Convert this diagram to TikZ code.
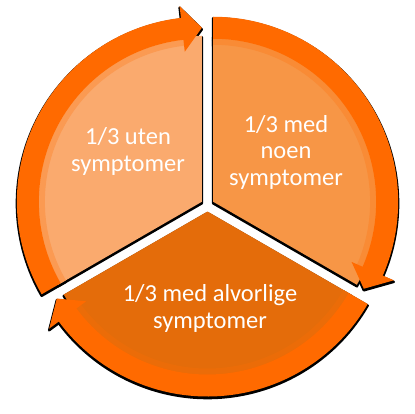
\documentclass[tikz,border=0pt]{standalone}
\usepackage{fontspec}
\setmainfont{Carlito}
\definecolor{ringc}{HTML}{FF6A00}
\definecolor{lightc}{HTML}{FAAA6E}
\definecolor{midc}{HTML}{F79646}
\definecolor{darkc}{HTML}{E46C0A}
\newcommand{\segparts}[6]{%
% #1 centre, #2 a1 (arrow end), #3 a2, #4 wedge style, #5 ring style, #6 band style
\begin{scope}[shift={(#1)}]
 \path[#4] (0,0) -- (#2:166) arc[start angle=#2,end angle=#3,radius=166] -- cycle;
 \path[#6] ({#2+6}:163) arc[start angle={#2+6},end angle=#3,radius=163] -- (#3:157) arc[start angle=#3,end angle={#2+6},radius=157] -- cycle;
 \path[#5] ({#2+6}:185) arc[start angle={#2+6},end angle=#3,radius=185] -- (#3:163) arc[start angle=#3,end angle={#2+6},radius=163] -- cycle;
 \path[#5] ({#2+6.5}:197) -- (#2:174) -- ({#2+6.5}:151) -- cycle;
\end{scope}}
\begin{document}
\begin{tikzpicture}[x=1pt,y=1pt,
  shadowpart/.style={fill=black,draw=black,line width=2.4pt,line join=round,yshift=-1.6pt},
  ringpart/.style={fill=ringc},
  lbl/.style={text=white,align=center,font=\fontsize{24.5}{26.5}\selectfont}]
\useasboundingbox[fill=white] (0,0) rectangle (415,413);
% shadows
\segparts{201.87,211.25}{90}{210}{shadowpart}{shadowpart}{shadowpart}
\segparts{213.13,211.25}{-30}{90}{shadowpart}{shadowpart}{shadowpart}
\segparts{207.5,201.5}{210}{330}{shadowpart}{shadowpart}{shadowpart}
% sectors
\segparts{201.87,211.25}{90}{210}{fill=lightc}{ringpart}{fill=lightc!75!ringc}
\segparts{213.13,211.25}{-30}{90}{fill=midc}{ringpart}{fill=midc!75!ringc}
\segparts{207.5,201.5}{210}{330}{fill=darkc}{ringpart}{fill=darkc!75!ringc}
% labels
\node[lbl] (t1) at (128,261.5) {1/3 uten\\symptomer};
\node[lbl] (t2) at (286,261) {1/3 med\\noen\\symptomer};
\node[lbl] (t3) at (210,104.5) {1/3 med alvorlige\\symptomer};
\end{tikzpicture}
\end{document}
